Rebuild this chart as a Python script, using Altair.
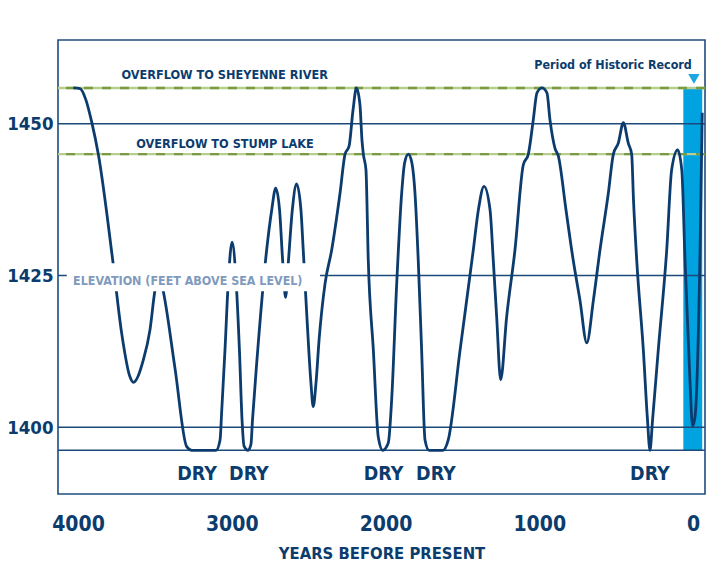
import altair as alt
import pandas as pd

# ---- data ----
years = [4030, 3987, 3948, 3911, 3868, 3774, 3716, 3662, 3640, 3575, 3532, 3499, 3473, 3447,
         3369, 3293, 3259, 3102, 3076, 3065, 3044, 3022, 2998, 2972, 2950, 2933, 2920, 2894,
         2875, 2865, 2836, 2773, 2740, 2714, 2689, 2669, 2650, 2631, 2606, 2578, 2550, 2535,
         2511, 2485, 2470, 2452, 2432, 2393, 2350, 2296, 2263, 2237, 2211, 2189, 2166, 2153,
         2144, 2127, 2112, 2079, 2047, 2018, 1982, 1960, 1927, 1895, 1876, 1852, 1828, 1808,
         1787, 1765, 1743, 1717, 1626, 1592, 1515, 1429, 1396, 1359, 1320, 1299, 1277, 1251,
         1212, 1158, 1104, 1071, 1039, 1015, 982, 950, 930, 898, 876, 826, 779, 735, 691, 648,
         605, 551, 518, 486, 453, 421, 399, 387, 366, 323, 296, 280, 263, 226, 171, 139, 100,
         73, 52, 20, 3, -13, -46, -60]
elevation = [1455.9, 1455.8, 1453.9, 1450.3, 1445.0, 1427.5, 1415.5, 1408.3, 1407.4, 1411.1,
             1416.0, 1422.6, 1425.2, 1422.6, 1409.7, 1396.8, 1396.2, 1396.2, 1397.9, 1402.8,
             1412.7, 1424.2, 1430.5, 1424.2, 1412.7, 1401.2, 1396.9, 1396.2, 1397.2, 1401.2,
             1411.1, 1429.2, 1435.8, 1439.4, 1435.8, 1427.5, 1421.4, 1427.5, 1435.8, 1440.1,
             1435.8, 1429.2, 1418.1, 1407.3, 1403.4, 1407.3, 1414.4, 1423.7, 1429.2, 1438.5,
             1445.0, 1446.3, 1452.3, 1455.9, 1453.1, 1447.3, 1445.0, 1442.4, 1427.5, 1412.7,
             1398.4, 1396.2, 1397.4, 1404.5, 1423.7, 1438.5, 1443.5, 1445.0, 1443.5, 1438.5,
             1427.5, 1412.7, 1397.9, 1396.2, 1396.2, 1397.9, 1412.7, 1429.2, 1435.8, 1439.7,
             1435.8, 1427.5, 1418.2, 1407.8, 1418.2, 1429.2, 1443.2, 1445.0, 1450.6, 1455.1,
             1455.9, 1455.1, 1450.6, 1446.0, 1444.7, 1435.8, 1427.5, 1420.9, 1413.9, 1420.9,
             1429.2, 1438.5, 1445.0, 1446.8, 1450.2, 1446.8, 1445.0, 1437.4, 1427.5, 1412.7,
             1401.2, 1396.2, 1401.2, 1412.7, 1429.2, 1442.4, 1445.7, 1442.4, 1427.5, 1407.8,
             1400.2, 1401.7, 1429.2, 1451.8]

SHEYENNE = 1455.9
STUMP = 1445.0
DRY_LEVEL = 1396.2
grid_levels = [1400, 1425, 1450]
x_ticks = [4000, 3000, 2000, 1000, 0]
y_ticks = [1400, 1425, 1450]

dry_years = [3226, 2888, 2012, 1672, 280]
dry_labels = ["DRY", "DRY", "DRY", "DRY", "DRY"]

record_start, record_end = 63, -60
marker_year, marker_elev = -6, 1457.4

X_DOMAIN = [4130, -78]
Y_DOMAIN = [1389, 1463.8]

FONT = "DejaVu Sans Condensed, DejaVu Sans, sans-serif"
NAVY = "#0c3c6e"
GRID = "#1b4a7a"

curve_df = pd.DataFrame({"year": years, "elev": elevation, "idx": range(len(years))})

xs = alt.Scale(domain=X_DOMAIN, nice=False, zero=False)
ys = alt.Scale(domain=Y_DOMAIN, nice=False, zero=False)

x_axis = alt.Axis(values=x_ticks, format="d", labelFont=FONT, labelFontWeight="bold",
                  labelFontSize=21, labelColor=NAVY, ticks=False, tickSize=0, domain=False,
                  grid=False, labelPadding=36, labelBaseline="alphabetic", labelFlush=False,
                  labelOverlap=False, title="YEARS BEFORE PRESENT", titleFont=FONT,
                  titleFontWeight="bold", titleFontSize=16.5, titleColor=NAVY, titleY=64,
                  titleBaseline="alphabetic")
y_axis = alt.Axis(values=y_ticks, format="d", labelFont=FONT, labelFontWeight="bold",
                  labelFontSize=18.5, labelColor=NAVY, ticks=False, tickSize=0, domain=False,
                  grid=False, labelPadding=5, labelBaseline="middle", labelFlush=False,
                  title=None)


def X(field):
    return alt.X(field, scale=xs, axis=x_axis, title="YEARS BEFORE PRESENT")


def Y(field):
    return alt.Y(field, scale=ys, axis=y_axis, title=None)


# historic record band
band = alt.Chart(pd.DataFrame({"year": [record_start], "year2": [record_end],
                               "elev": [DRY_LEVEL], "elev2": [SHEYENNE]})).mark_rect(
    color="#00a3e0").encode(x=X("year:Q"), x2="year2:Q", y=Y("elev:Q"), y2="elev2:Q")

# horizontal grid lines and dry line
grid = alt.Chart(pd.DataFrame({"elev": grid_levels + [DRY_LEVEL]})).mark_rule(
    color=GRID, strokeWidth=1.6).encode(y=Y("elev:Q"))

# overflow lines
ov_df = pd.DataFrame({"elev": [SHEYENNE, STUMP]})
ov_base = alt.Chart(ov_df).mark_rule(color="#b9cd93", strokeWidth=2.4).encode(y=Y("elev:Q"))
ov_dash = alt.Chart(ov_df).mark_rule(color="#7b9b42", strokeWidth=2.4,
                                     strokeDash=[9, 9]).encode(y=Y("elev:Q"))

curve = alt.Chart(curve_df).mark_line(color=NAVY, strokeWidth=2.8,
                                      interpolate="monotone").encode(
    x=X("year:Q"), y=Y("elev:Q"), order=alt.Order("idx:Q"))

# white box behind the elevation label
box = alt.Chart(pd.DataFrame({"year": [4073], "year2": [2426],
                              "elev": [1422.4], "elev2": [1427.0]})).mark_rect(
    color="white").encode(x=X("year:Q"), x2="year2:Q", y=Y("elev:Q"), y2="elev2:Q")

label_df = pd.DataFrame({
    "year": [3046, 3044],
    "elev": [1457.4, 1446.0],
    "t": ["OVERFLOW TO SHEYENNE RIVER", "OVERFLOW TO STUMP LAKE"],
})
labels = alt.Chart(label_df).mark_text(font=FONT, fontWeight="bold", fontSize=12.6,
                                       color=NAVY, baseline="alphabetic", align="center").encode(
    x=X("year:Q"), y=Y("elev:Q"), text="t:N")

elev_label = alt.Chart(pd.DataFrame({"year": [3286], "elev": [1423.4],
                                     "t": ["ELEVATION (FEET ABOVE SEA LEVEL)"]})).mark_text(
    font=FONT, fontWeight="bold", fontSize=12.4, color="#7f9abd", baseline="alphabetic",
    align="center").encode(x=X("year:Q"), y=Y("elev:Q"), text="t:N")

dry = alt.Chart(pd.DataFrame({"year": dry_years, "elev": [1391.3] * len(dry_years),
                              "t": dry_labels})).mark_text(
    font=FONT, fontWeight="bold", fontSize=19.5, color=NAVY, baseline="alphabetic",
    align="center").encode(x=X("year:Q"), y=Y("elev:Q"), text="t:N")

record_text = alt.Chart(pd.DataFrame({"year": [8], "elev": [1459.1],
                                      "t": ["Period of Historic Record"]})).mark_text(
    font=FONT, fontWeight="bold", fontSize=12.4, color=NAVY, baseline="alphabetic",
    align="right").encode(x=X("year:Q"), y=Y("elev:Q"), text="t:N")

marker = alt.Chart(pd.DataFrame({"year": [marker_year], "elev": [marker_elev]})).mark_point(
    shape="triangle-down", filled=True, size=130, color="#1aa6e0", opacity=1).encode(
    x=X("year:Q"), y=Y("elev:Q"))

chart = alt.layer(band, grid, ov_base, ov_dash, curve, box, labels, elev_label, dry,
                  record_text, marker).properties(
    width=647, height=454,
    autosize=alt.AutoSizeParams(type="none"),
    padding={"left": 50, "top": 32, "right": 10, "bottom": 69},
    background="white",
).configure_view(stroke="#1f4d7d", strokeWidth=1.6)

chart.save("out.html", embed_options={"renderer": "svg", "actions": False})
